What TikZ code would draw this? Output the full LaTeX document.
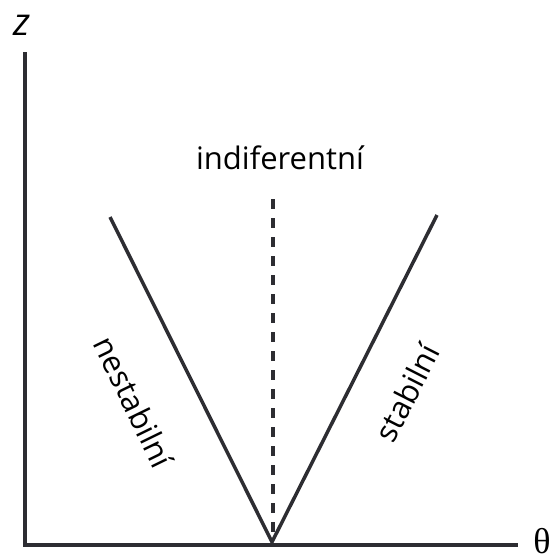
\documentclass[tikz,border=0pt]{standalone}
\usepackage{fontspec}
\setmainfont{Open Sans}
\newfontfamily\thetafont{Liberation Serif}
\definecolor{ink}{RGB}{45,45,50}
\begin{document}
\begin{tikzpicture}[x=1pt,y=-1pt,
  axis/.style={draw=ink,line width=3.5pt},
  vline/.style={draw=ink,line width=3.5pt},
  dline/.style={draw=ink,line width=3.5pt,dash pattern=on 10pt off 9pt},
  lbl/.style={font=\fontsize{31}{36}\selectfont,inner sep=0pt}]
\useasboundingbox (0,0) rectangle (549,555);
\coordinate (top) at (25,52);
\coordinate (origin) at (25,545);
\coordinate (xend) at (518,545);
\coordinate (vtx) at (272,542);
\coordinate (ltop) at (110,217);
\coordinate (rtop) at (437,215);
\coordinate (dtop) at (273,199);
\coordinate (dbot) at (273,540);
\draw[axis] (top) -- (origin) -- (xend);
\draw[vline] (ltop) -- (vtx) -- (rtop);
\draw[dline] (dtop) -- (dbot);
\node[font=\fontsize{38}{40}\selectfont\itshape,inner sep=0pt] (zl) at (22,25) {z};
\node[font=\fontsize{36}{40}\selectfont\thetafont,inner sep=0pt,anchor=north] (tl) at (542,528) {θ};
\node[lbl] (ind) at (280,158) {indiferentní};
\node[lbl,rotate=-64] (nes) at (134,402) {nestabilní};
\node[lbl,rotate=63] (sta) at (407,393) {stabilní};
\end{tikzpicture}
\end{document}
